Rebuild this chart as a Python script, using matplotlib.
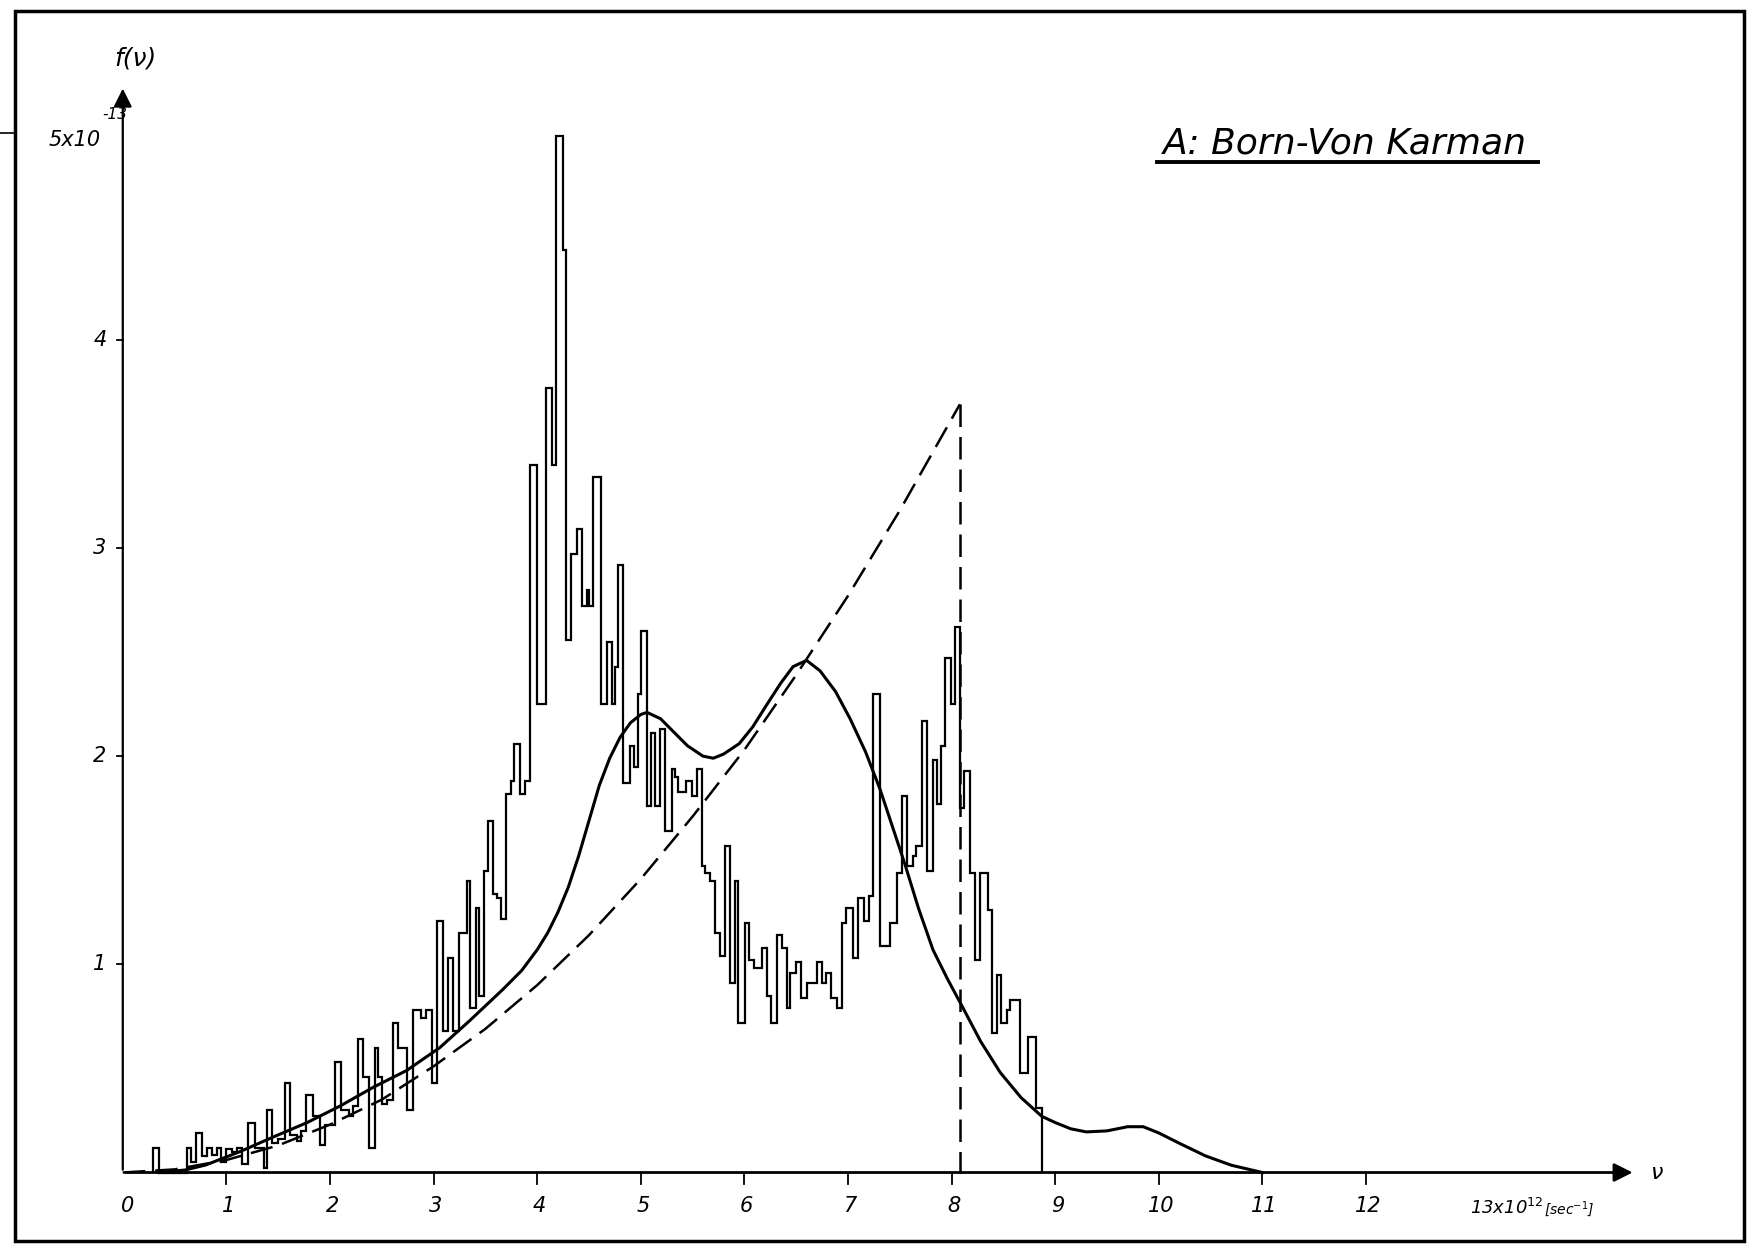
import numpy as np
import matplotlib
matplotlib.use("Agg")
import matplotlib.pyplot as plt
from matplotlib.patches import Rectangle
from matplotlib.lines import Line2D

plt.rcParams['font.family'] = ['DejaVu Sans']

# Histogram of the computed frequency distribution (bin edges in 10^12 sec^-1, heights in 10^-13)
hist_edges = [0.29, 0.35, 0.62, 0.66, 0.71, 0.76, 0.81, 0.86, 0.91, 0.95, 1.00,
              1.05, 1.10, 1.15, 1.21, 1.28, 1.36, 1.39, 1.44, 1.50, 1.57,
              1.61, 1.68, 1.72, 1.77, 1.84, 1.90, 1.95, 2.05, 2.11, 2.18,
              2.22, 2.27, 2.32, 2.38, 2.43, 2.46, 2.50, 2.55, 2.61, 2.66,
              2.74, 2.80, 2.88, 2.93, 2.98, 3.03, 3.09, 3.14, 3.19, 3.25,
              3.32, 3.35, 3.41, 3.44, 3.49, 3.53, 3.57, 3.61, 3.65, 3.70,
              3.75, 3.78, 3.83, 3.88, 3.93, 4.00, 4.085, 4.14, 4.18, 4.25,
              4.28, 4.33, 4.38, 4.43, 4.48, 4.50, 4.54, 4.62, 4.67, 4.72,
              4.75, 4.78, 4.83, 4.90, 4.93, 4.97, 5.00, 5.06, 5.10, 5.14,
              5.19, 5.23, 5.30, 5.33, 5.36, 5.44, 5.49, 5.54, 5.59, 5.62,
              5.67, 5.72, 5.76, 5.81, 5.86, 5.91, 5.94, 6.01, 6.04, 6.09,
              6.17, 6.22, 6.26, 6.31, 6.36, 6.41, 6.44, 6.50, 6.55, 6.60,
              6.70, 6.75, 6.79, 6.84, 6.89, 6.94, 6.98, 7.05, 7.10, 7.15,
              7.20, 7.245, 7.31, 7.41, 7.47, 7.52, 7.57, 7.63, 7.66, 7.71,
              7.76, 7.82, 7.86, 7.90, 7.94, 7.99, 8.03, 8.08, 8.12, 8.18,
              8.23, 8.27, 8.35, 8.39, 8.44, 8.48, 8.53, 8.56, 8.66, 8.74,
              8.81, 8.87]
hist_values = [0.12, 0.0, 0.12, 0.05, 0.19, 0.08, 0.12, 0.085, 0.12, 0.05,
               0.115, 0.10, 0.12, 0.04, 0.24, 0.12, 0.02, 0.30, 0.14, 0.16,
               0.43, 0.18, 0.15, 0.20, 0.37, 0.27, 0.13, 0.23, 0.53, 0.30,
               0.27, 0.32, 0.64, 0.46, 0.12, 0.60, 0.46, 0.33, 0.35, 0.72,
               0.60, 0.30, 0.78, 0.74, 0.78, 0.43, 1.21, 0.68, 1.03, 0.68,
               1.15, 1.40, 0.79, 1.27, 0.85, 1.45, 1.69, 1.34, 1.32, 1.22,
               1.82, 1.88, 2.06, 1.82, 1.88, 3.40, 2.25, 3.77, 3.40, 4.98,
               4.43, 2.56, 2.97, 3.09, 2.72, 2.80, 2.72, 3.34, 2.25, 2.55,
               2.25, 2.43, 2.92, 1.87, 2.05, 1.95, 2.30, 2.60, 1.76, 2.11,
               1.76, 2.13, 1.64, 1.94, 1.90, 1.83, 1.88, 1.81, 1.94, 1.47,
               1.44, 1.40, 1.15, 1.04, 1.57, 0.91, 1.40, 0.72, 1.20, 1.02,
               0.98, 1.08, 0.85, 0.72, 1.14, 1.08, 0.79, 0.96, 1.01, 0.84,
               0.91, 1.01, 0.91, 0.96, 0.84, 0.79, 1.20, 1.27, 1.03, 1.32,
               1.21, 1.33, 2.30, 1.09, 1.20, 1.44, 1.81, 1.47, 1.52, 1.57,
               2.17, 1.45, 1.98, 1.77, 2.05, 2.47, 2.25, 2.62, 1.75, 1.93,
               1.44, 1.02, 1.44, 1.26, 0.67, 0.95, 0.72, 0.78, 0.83, 0.48,
               0.65, 0.31]

# Smoothed spectrum (solid curve)
smooth_x = [0.35, 0.6, 0.8, 1.13, 1.45, 1.78, 2.10, 2.42, 2.74, 3.06, 3.35,
            3.67, 3.85, 4.0, 4.1, 4.2, 4.3, 4.4, 4.5, 4.6, 4.7, 4.8, 4.9,
            5.0, 5.06, 5.19, 5.31, 5.45, 5.6, 5.7, 5.8, 5.95, 6.08, 6.22,
            6.35, 6.47, 6.6, 6.73, 6.88, 7.02, 7.17, 7.31, 7.43, 7.55, 7.68,
            7.82, 7.96, 8.1, 8.28, 8.47, 8.67, 8.87, 9.0, 9.15, 9.3, 9.5, 9.7,
            9.85, 10.0, 10.2, 10.45, 10.7, 11.0]
smooth_y = [0.0, 0.012, 0.036, 0.10, 0.17, 0.24, 0.32, 0.41, 0.49, 0.60, 0.73,
            0.88, 0.97, 1.07, 1.15, 1.25, 1.37, 1.52, 1.69, 1.86, 1.99, 2.09,
            2.16, 2.20, 2.21, 2.18, 2.12, 2.05, 2.00, 1.99, 2.01, 2.06, 2.14,
            2.25, 2.35, 2.43, 2.46, 2.41, 2.31, 2.18, 2.02, 1.84, 1.66, 1.48,
            1.27, 1.07, 0.93, 0.80, 0.63, 0.48, 0.36, 0.27, 0.24, 0.21, 0.195,
            0.20, 0.22, 0.22, 0.19, 0.14, 0.08, 0.035, 0.0]

# Debye approximation (dashed curve), cut off at nu_max
debye_x = [0.0, 0.5, 1.0, 1.5, 2.0, 2.5, 3.0, 3.5, 4.0, 4.5, 5.0, 5.5, 6.0,
           6.5, 7.0, 7.5, 8.08]
debye_y = [0.0, 0.015, 0.06, 0.13, 0.23, 0.35, 0.51, 0.69, 0.90, 1.14, 1.41,
           1.71, 2.03, 2.39, 2.77, 3.18, 3.69]
nu_max = 8.08

x_ticks = [0, 1, 2, 3, 4, 5, 6, 7, 8, 9, 10, 11, 12]
y_ticks = [1, 2, 3, 4]

fig = plt.figure(figsize=(17.51, 12.46), dpi=100)
ax = fig.add_axes([0, 0, 1, 1])
ax.set_xlim(-1.185, 15.716)
ax.set_ylim(-0.353, 5.632)
ax.axis('off')

# outer frame of the drawing
fig.patches.append(Rectangle((0.0086, 0.004), 0.9874, 0.9872, transform=fig.transFigure,
                             fill=False, lw=2.5, edgecolor='black'))
fig.lines.append(Line2D([0.0, 0.0086], [0.893, 0.893], transform=fig.transFigure,
                       color='black', lw=1.2))

# axes with arrows
ax.annotate('', xy=(14.6, 0), xytext=(0, 0),
            arrowprops=dict(arrowstyle='-|>', lw=2, color='black', mutation_scale=28))
ax.annotate('', xy=(0, 5.22), xytext=(0, 0),
            arrowprops=dict(arrowstyle='-|>', lw=1.6, color='black', mutation_scale=28))

for t in x_ticks[1:]:
    ax.plot([t, t], [0, -0.055], color='black', lw=1.3)
for t in y_ticks:
    ax.plot([0, -0.06], [t, t], color='black', lw=1.3)

tick_font = dict(fontsize=15, fontstyle='italic', color='black')
for t in x_ticks:
    ax.text(t + (0.05 if t == 0 else 0.02), -0.16, str(t), ha='center', va='center', **tick_font)
ax.text(13.0, -0.17, r'13x10$^{12}$', ha='left', va='center', fontsize=13,
        fontstyle='italic')
ax.text(13.72, -0.175, r'[sec$^{-1}$]', ha='left', va='center', fontsize=10,
        fontstyle='italic')
for t in y_ticks:
    ax.text(-0.22, t, str(t), ha='center', va='center', **tick_font)
# scale factor of the y axis
ax.text(-0.21, 4.96, '5x10', ha='right', va='center', fontsize=15, fontstyle='italic')
ax.text(-0.2, 5.08, '-13', ha='left', va='center', fontsize=11, fontstyle='italic')
ax.text(0.12, 5.35, 'f(ν)', ha='center', va='center', fontsize=18, fontstyle='italic')
ax.text(14.8, 0.0, 'ν', ha='center', va='center', fontsize=16, fontstyle='italic')

# histogram
ax.stairs(hist_values, hist_edges, baseline=0, color='black', lw=1.6)

# smooth curve
ax.plot(smooth_x, smooth_y, color='black', lw=2.2)

# Debye curve and its cut-off
ax.plot(debye_x, debye_y, color='black', lw=1.8, dashes=(9, 4))
ax.plot([nu_max, nu_max], [debye_y[-1], 0], color='black', lw=1.8, dashes=(9, 4))

# title, underlined
ax.text(10.04, 4.945, 'A: Born-Von Karman', ha='left', va='center', fontsize=26,
        fontstyle='italic')
ax.plot([9.98, 13.66], [4.853, 4.853], color='black', lw=2.8)

fig.savefig('out.png', dpi=100, facecolor='white')
